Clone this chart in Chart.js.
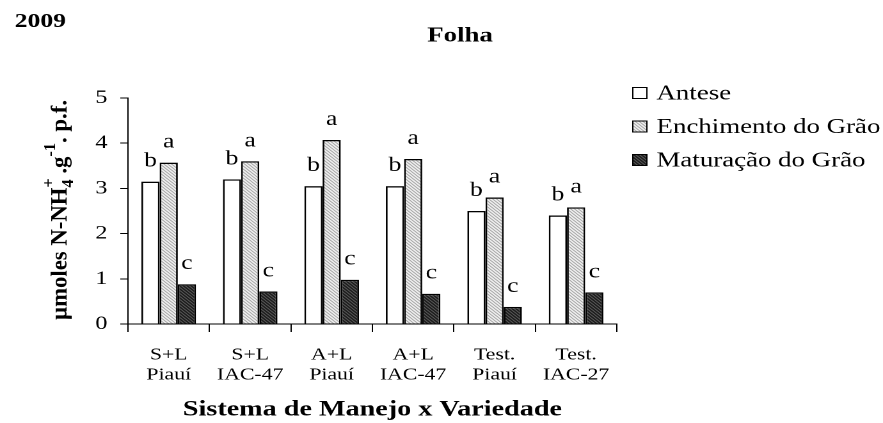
<!DOCTYPE html>
<html>
<head>
<meta charset="utf-8">
<script src="https://cdn.jsdelivr.net/npm/chart.js@4.4.0/dist/chart.umd.min.js"></script>
<style>
  html, body { margin: 0; padding: 0; background: #fff; overflow: hidden; }
  /* the original figure is stretched sideways, so draw narrower and widen */
  #wrap {
    width: 690px;
    height: 423px;
    position: relative;
    transform: scaleX(1.2797);
    transform-origin: 0 0;
  }
</style>
</head>
<body>
<div id="wrap"><canvas id="chart"></canvas></div>
<script>
// data
const categories = [
  ["S+L", "Piauí"],
  ["S+L", "IAC-47"],
  ["A+L", "Piauí"],
  ["A+L", "IAC-47"],
  ["Test.", "Piauí"],
  ["Test.", "IAC-27"],
];
const seriesNames = ["Antese", "Enchimento do Grão", "Maturação do Grão"];
const antese = [3.15, 3.2, 3.05, 3.05, 2.5, 2.4];
const enchimento = [3.57, 3.6, 4.07, 3.65, 2.8, 2.58];
const maturacao = [0.88, 0.72, 0.98, 0.67, 0.38, 0.7];
const letters = [
  ["b", "b", "b", "b", "b", "b"],
  ["a", "a", "a", "a", "a", "a"],
  ["c", "c", "c", "c", "c", "c"],
];
const yTicks = [0, 1, 2, 3, 4, 5];

const SERIF = "'Liberation Serif', 'Times New Roman', serif";

window.onload = function () {
  const ctx = document.getElementById("chart").getContext("2d");

  // diagonal hatch fills
  function stripes(bg, fg, lw) {
    const n = 3;
    const c = document.createElement("canvas");
    c.width = n;
    c.height = n;
    const g = c.getContext("2d");
    g.fillStyle = bg;
    g.fillRect(0, 0, n, n);
    g.strokeStyle = fg;
    g.lineWidth = lw;
    g.beginPath();
    g.moveTo(-1, -1); g.lineTo(n + 1, n + 1);
    g.moveTo(-1, n - 1); g.lineTo(1, n + 1);
    g.moveTo(n - 1, -1); g.lineTo(n + 1, 1);
    g.stroke();
    return ctx.createPattern(c, "repeat");
  }

  const fills = ["#ffffff", stripes("#ffffff", "#7a7a7a", 1), stripes("#101010", "#8c8c8c", 0.9)];

  // letters above bars
  const letterPlugin = {
    id: "letters",
    afterDatasetsDraw(chart) {
      const c = chart.ctx;
      c.save();
      c.font = "20px " + SERIF;
      c.fillStyle = "#000";
      c.textAlign = "center";
      c.textBaseline = "alphabetic";
      chart.data.datasets.forEach((ds, i) => {
        chart.getDatasetMeta(i).data.forEach((bar, j) => {
          c.fillText(letters[i][j], bar.x, bar.y - 15);
        });
      });
      c.restore();
    },
  };

  // legend, year, title and y-axis label
  const extrasPlugin = {
    id: "extras",
    afterDraw(chart) {
      const c = chart.ctx;
      c.save();
      c.fillStyle = "#000";

      c.font = "bold 20px " + SERIF;
      c.textBaseline = "middle";
      c.textAlign = "left";
      c.fillText("2009", 11.5, 22);
      c.font = "bold 21px " + SERIF;
      c.textAlign = "center";
      c.fillText("Folha", 359.5, 36);

      // legend
      c.font = "21px " + SERIF;
      c.textAlign = "left";
      chart.data.datasets.forEach((ds, i) => {
        const y = 93 + i * 33.5;
        c.fillStyle = ds.backgroundColor;
        c.fillRect(494, y - 6, 12, 12);
        c.strokeStyle = "#000";
        c.lineWidth = 1;
        c.strokeRect(494.5, y - 5.5, 11, 11);
        c.fillStyle = "#000";
        c.fillText(ds.label, 513, y + 1);
      });

      // y-axis title with sub/superscripts
      const parts = [
        { t: "µmoles N-NH", s: 18, dy: 0 },
        { t: "4", s: 13, dy: 5 },
        { t: "+", s: 13, dy: -10, back: true },
        { t: " .g", s: 18, dy: 0 },
        { t: "-1", s: 13, dy: -9 },
        { t: ". p.f.", s: 18, dy: 0 },
      ];
      c.translate(46, 210);
      c.rotate(-Math.PI / 2);
      let total = 0;
      const widths = parts.map((p) => {
        c.font = "bold " + p.s + "px " + SERIF;
        return c.measureText(p.t).width;
      });
      parts.forEach((p, k) => { if (!p.back) total += widths[k]; });
      c.scale(220 / total, 1);
      let x = -total / 2;
      let last = 0;
      c.textAlign = "left";
      c.textBaseline = "alphabetic";
      parts.forEach((p, k) => {
        c.font = "bold " + p.s + "px " + SERIF;
        if (p.back) {
          c.fillText(p.t, x - last, p.dy + 6);
        } else {
          c.fillText(p.t, x, p.dy + 6);
          last = widths[k];
          x += widths[k];
        }
      });
      c.restore();
    },
  };

  new Chart(ctx, {
    type: "bar",
    data: {
      labels: categories,
      datasets: [antese, enchimento, maturacao].map((d, i) => ({
        label: seriesNames[i],
        data: d,
        backgroundColor: fills[i],
        borderColor: "#000",
        borderWidth: 1.4,
        categoryPercentage: 0.67,
        barPercentage: 1.0,
      })),
    },
    options: {
      responsive: true,
      maintainAspectRatio: false,
      animation: false,
      devicePixelRatio: 2,
      layout: { padding: { top: 98, right: 208, left: 0, bottom: 0 } },
      plugins: {
        legend: { display: false },
        tooltip: { enabled: false },
      },
      scales: {
        x: {
          afterFit(s) { s.height = 99; },
          grid: {
            offset: true,
            drawOnChartArea: false,
            color: "#000",
            tickLength: 8,
          },
          border: { color: "#000", width: 1 },
          ticks: {
            color: "#000",
            padding: 13,
            font: { family: SERIF, size: 17, lineHeight: 1.18 },
          },
          title: {
            display: true,
            text: "Sistema de Manejo x Variedade",
            color: "#000",
            font: { family: SERIF, size: 22, weight: "bold", lineHeight: 1.2 },
            padding: { top: 0, bottom: 0 },
          },
        },
        y: {
          min: 0,
          max: 5,
          afterFit(s) { s.width = 100; },
          afterBuildTicks(s) { s.ticks = yTicks.map((v) => ({ value: v })); },
          grid: {
            drawOnChartArea: false,
            color: "#000",
            tickLength: 6,
          },
          border: { color: "#000", width: 1 },
          ticks: {
            color: "#000",
            padding: 10,
            font: { family: SERIF, size: 19 },
          },
        },
      },
    },
    plugins: [letterPlugin, extrasPlugin],
  });
};
</script>
</body>
</html>
